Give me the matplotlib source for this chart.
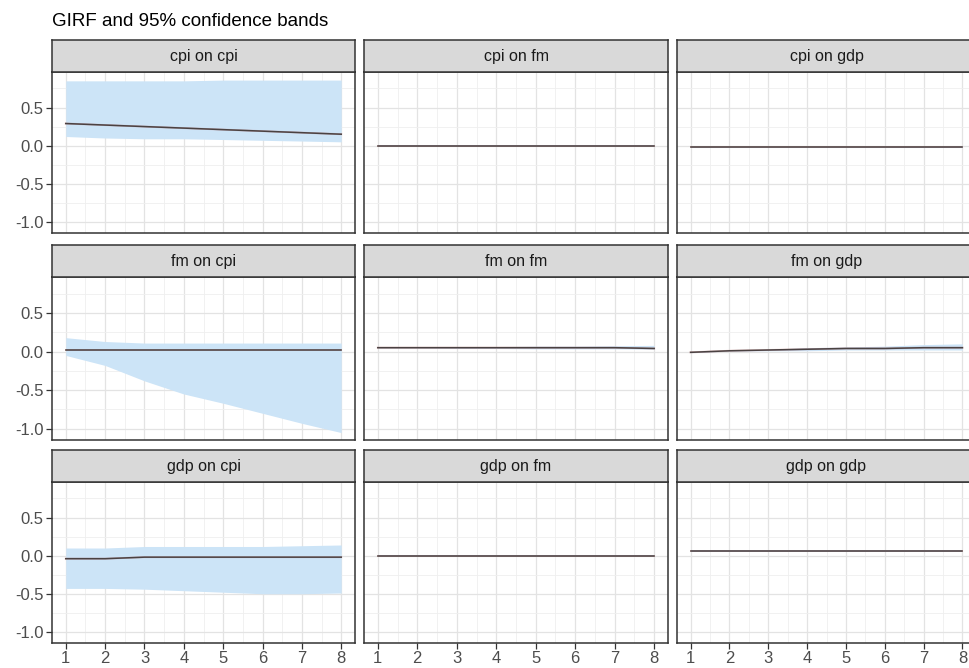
import matplotlib
matplotlib.use("Agg")
import matplotlib.pyplot as plt
import numpy as np

plt.rcParams['font.family'] = ['Liberation Sans', 'DejaVu Sans']

horizon = [1, 2, 3, 4, 5, 6, 7, 8]
titles = ["cpi on cpi", "cpi on fm", "cpi on gdp",
          "fm on cpi", "fm on fm", "fm on gdp",
          "gdp on cpi", "gdp on fm", "gdp on gdp"]

girf_cpi_cpi = [0.29, 0.27, 0.25, 0.23, 0.21, 0.19, 0.17, 0.15]
upper_cpi_cpi = [0.85, 0.85, 0.85, 0.85, 0.86, 0.86, 0.86, 0.86]
lower_cpi_cpi = [0.12, 0.10, 0.09, 0.09, 0.08, 0.07, 0.06, 0.05]

girf_cpi_fm = [0.00, 0.00, 0.00, 0.00, 0.00, 0.00, 0.00, 0.00]
upper_cpi_fm = [0.005, 0.005, 0.005, 0.005, 0.005, 0.005, 0.005, 0.005]
lower_cpi_fm = [-0.005, -0.005, -0.005, -0.005, -0.005, -0.005, -0.005, -0.005]

girf_cpi_gdp = [-0.02, -0.02, -0.02, -0.02, -0.02, -0.02, -0.02, -0.02]
upper_cpi_gdp = [-0.015, -0.015, -0.015, -0.015, -0.015, -0.015, -0.01, -0.005]
lower_cpi_gdp = [-0.025, -0.025, -0.025, -0.025, -0.025, -0.025, -0.025, -0.025]

girf_fm_cpi = [0.02, 0.02, 0.02, 0.02, 0.02, 0.02, 0.02, 0.02]
upper_fm_cpi = [0.18, 0.13, 0.11, 0.11, 0.11, 0.11, 0.11, 0.11]
lower_fm_cpi = [-0.05, -0.18, -0.38, -0.55, -0.67, -0.80, -0.93, -1.05]

girf_fm_fm = [0.05, 0.05, 0.05, 0.05, 0.05, 0.05, 0.05, 0.04]
upper_fm_fm = [0.055, 0.055, 0.06, 0.065, 0.07, 0.07, 0.075, 0.08]
lower_fm_fm = [0.045, 0.045, 0.04, 0.04, 0.035, 0.035, 0.035, 0.03]

girf_fm_gdp = [-0.01, 0.01, 0.02, 0.03, 0.04, 0.04, 0.05, 0.05]
upper_fm_gdp = [-0.005, 0.015, 0.03, 0.05, 0.06, 0.07, 0.09, 0.10]
lower_fm_gdp = [-0.015, 0.005, 0.01, 0.01, 0.02, 0.02, 0.02, 0.02]

girf_gdp_cpi = [-0.04, -0.04, -0.02, -0.02, -0.02, -0.02, -0.02, -0.02]
upper_gdp_cpi = [0.10, 0.10, 0.12, 0.12, 0.12, 0.12, 0.13, 0.14]
lower_gdp_cpi = [-0.43, -0.43, -0.44, -0.46, -0.48, -0.50, -0.50, -0.49]

girf_gdp_fm = [0.00, 0.00, 0.00, 0.00, 0.00, 0.00, 0.00, 0.00]
upper_gdp_fm = [0.005, 0.005, 0.005, 0.005, 0.005, 0.005, 0.005, 0.005]
lower_gdp_fm = [-0.005, -0.005, -0.005, -0.005, -0.005, -0.005, -0.005, -0.005]

girf_gdp_gdp = [0.06, 0.06, 0.06, 0.06, 0.06, 0.06, 0.06, 0.06]
upper_gdp_gdp = [0.07, 0.07, 0.07, 0.07, 0.07, 0.07, 0.07, 0.07]
lower_gdp_gdp = [0.05, 0.05, 0.05, 0.05, 0.05, 0.05, 0.05, 0.05]

girfs = [girf_cpi_cpi, girf_cpi_fm, girf_cpi_gdp, girf_fm_cpi, girf_fm_fm,
         girf_fm_gdp, girf_gdp_cpi, girf_gdp_fm, girf_gdp_gdp]
uppers = [upper_cpi_cpi, upper_cpi_fm, upper_cpi_gdp, upper_fm_cpi, upper_fm_fm,
          upper_fm_gdp, upper_gdp_cpi, upper_gdp_fm, upper_gdp_gdp]
lowers = [lower_cpi_cpi, lower_cpi_fm, lower_cpi_gdp, lower_fm_cpi, lower_fm_fm,
          lower_fm_gdp, lower_gdp_cpi, lower_gdp_fm, lower_gdp_gdp]

W, H = 969, 668
fig = plt.figure(figsize=(W / 100, H / 100), dpi=100)

col_x = [(52, 355), (364, 668), (677, 976)]
row_y = [(40, 72, 233), (245, 277, 440), (450, 482, 643)]

band_color = '#cce4f7'
line_color = '#4a4242'
border = '#333333'

def px(x0, y0, x1, y1):
    return [x0 / W, 1 - y1 / H, (x1 - x0) / W, (y1 - y0) / H]

for i in range(9):
    r, c = divmod(i, 3)
    x0, x1 = col_x[c]
    st, sb, pb = row_y[r]
    ax = fig.add_axes(px(x0, sb, x1, pb))
    ax.set_facecolor('white')
    ax.fill_between(horizon, lowers[i], uppers[i], color=band_color, lw=0, zorder=2)
    ax.plot(horizon, girfs[i], color='#c06060', lw=1.4, alpha=0.35, zorder=3)
    ax.plot(horizon, girfs[i], color=line_color, lw=1.1, zorder=4)
    ax.set_xlim(0.65, 8.35)
    ax.set_ylim(-1.146, 0.966)
    ax.set_xticks(horizon)
    ax.set_xticks([1.5, 2.5, 3.5, 4.5, 5.5, 6.5, 7.5], minor=True)
    ax.set_yticks([-1.0, -0.5, 0.0, 0.5])
    ax.set_yticks([-0.75, -0.25, 0.25, 0.75], minor=True)
    ax.grid(True, which='major', color='#e3e3e3', lw=0.9, zorder=0)
    ax.grid(True, which='minor', color='#efefef', lw=0.6, zorder=0)
    ax.set_axisbelow(True)
    for s in ax.spines.values():
        s.set_color(border)
        s.set_linewidth(1.1)
    ax.tick_params(which='minor', length=0)
    ax.tick_params(which='major', length=4, color=border, width=0.9,
                   labelsize=12, labelcolor='#4d4d4d', pad=2)
    if c == 0:
        ax.set_yticklabels(['-1.0', '-0.5', '0.0', '0.5'])
    else:
        ax.tick_params(axis='y', length=0, labelleft=False)
    if r == 2:
        ax.set_xticklabels([str(h) for h in horizon])
    else:
        ax.tick_params(axis='x', length=0, labelbottom=False)

    sax = fig.add_axes(px(x0, st, x1, sb))
    sax.set_facecolor('#d9d9d9')
    sax.set_xticks([])
    sax.set_yticks([])
    for s in sax.spines.values():
        s.set_color(border)
        s.set_linewidth(1.1)
    sax.text(0.5, 0.47, titles[i], ha='center', va='center', fontsize=11.5,
             color='#1a1a1a', transform=sax.transAxes)

fig.text(52 / W, 1 - 22 / H, "GIRF and 95% confidence bands", ha='left',
         va='center', fontsize=13.5, color='black')

fig.savefig('out.png', dpi=100)
